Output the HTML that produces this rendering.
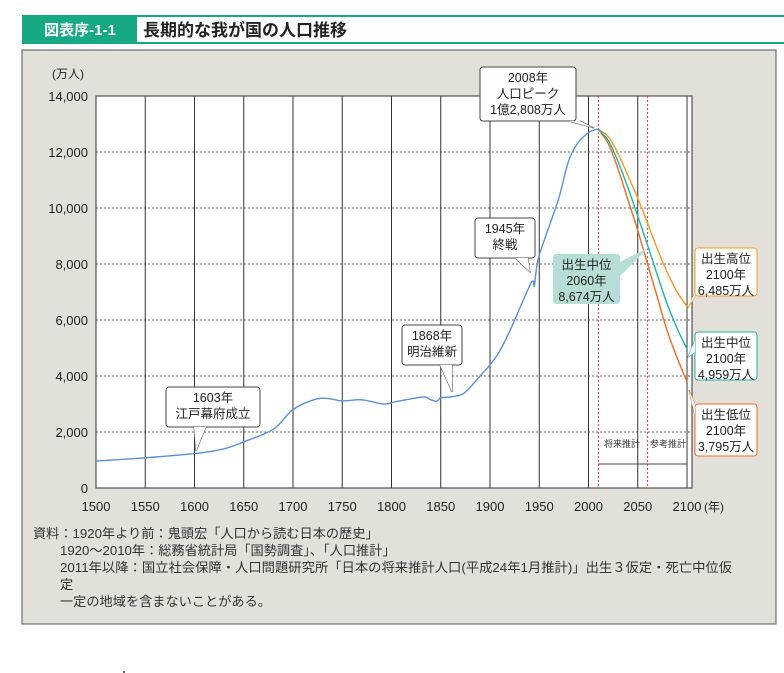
<!DOCTYPE html>
<html><head><meta charset="utf-8"><style>
body{margin:0;width:784px;height:673px;background:#fff;position:relative;font-family:"Liberation Sans","Noto Sans CJK JP",sans-serif;overflow:hidden}
</style></head><body>
<svg width="784" height="673" viewBox="0 0 784 673" xmlns="http://www.w3.org/2000/svg" style="position:absolute;left:0;top:0;font-family:'Liberation Sans','Noto Sans CJK JP',sans-serif">
<g>
<rect x="22" y="15" width="762" height="29" fill="#17a884"/>
<rect x="137" y="17" width="647" height="25" fill="#fff"/>
<text x="80" y="35" font-size="15" font-weight="bold" fill="#fff" text-anchor="middle">図表序-1-1</text>
<text x="143" y="36" font-size="17" font-weight="bold" fill="#222">長期的な我が国の人口推移</text>
</g>
<rect x="22" y="50" width="754" height="574" fill="#e3e0da" stroke="#555" stroke-width="1"/>
<g id="plot"></g>
<g font-size="13.2" fill="#333">
<text x="33" y="538">資料：1920年より前：鬼頭宏「人口から読む日本の歴史」</text>
<text x="60" y="555">1920～2010年：総務省統計局「国勢調査」、「人口推計」</text>
<text x="60" y="572" textLength="672" lengthAdjust="spacingAndGlyphs">2011年以降：国立社会保障・人口問題研究所「日本の将来推計人口(平成24年1月推計)」出生３仮定・死亡中位仮</text>
<text x="60" y="589">定</text>
<text x="60" y="606">一定の地域を含まないことがある。</text>
</g>
<circle cx="124" cy="672" r="1" fill="#333"/>
</svg>
<script>
const yTicks=[0,2000,4000,6000,8000,10000,12000,14000];
const xTicks=[1500,1550,1600,1650,1700,1750,1800,1850,1900,1950,2000,2050,2100];
const histYears=[1500,1550,1600,1630,1650,1680,1700,1721,1735,1750,1770,1792,1804,1822,1834,1840,1846,1850,1860,1872,1880,1890,1900,1910,1920,1930,1940,1944,1945,1947,1950,1960,1970,1980,1990,2000,2005,2008,2010];
const histPop=[960,1080,1227,1400,1650,2100,2800,3150,3200,3110,3150,3000,3080,3200,3250,3150,3100,3220,3250,3350,3600,4000,4400,4900,5600,6400,7200,7400,7200,7800,8320,9340,10370,11700,12360,12690,12780,12808,12806];
const projYears=[2010,2020,2030,2040,2050,2060,2070,2080,2090,2100];
const projMid=[12806,12410,11662,10728,9708,8674,7590,6560,5700,4959];
const projHigh=[12806,12550,11950,11160,10350,9460,8520,7700,7000,6485];
const projLow=[12806,12300,11400,10300,9200,7997,6800,5600,4650,3795];
const X0=96,X1=687,Y0=488,Y1=96;
const sx=v=>X0+(v-1500)*(X1-X0)/600;
const sy=v=>Y0-v*(Y0-Y1)/14000;
const NS="http://www.w3.org/2000/svg";
const g=document.getElementById('plot');
function el(t,a,p){const e=document.createElementNS(NS,t);for(const k in a)e.setAttribute(k,a[k]);(p||g).appendChild(e);return e;}
el('rect',{x:X0,y:Y1,width:692-X0,height:Y0-Y1,fill:'#fff',stroke:'#333','stroke-width':1});
yTicks.forEach(v=>{
 if(v>0&&v<14000){const l=el('line',{x1:X0,x2:692,y1:sy(v),y2:sy(v),stroke:'#333','stroke-dasharray':'2,2','stroke-width':0.8});
 }
 const t=el('text',{x:X0-8,y:sy(v)+5,'font-size':13,'text-anchor':'end',fill:'#222'});t.textContent=v.toLocaleString('en-US');
 
});
xTicks.forEach(v=>{
 if(v>1500){const l=el('line',{x1:sx(v),x2:sx(v),y1:Y1,y2:Y0,stroke:'#333','stroke-width':1});
 }
 const t=el('text',{x:sx(v),y:511,'font-size':13,'text-anchor':'middle',fill:'#222'});t.textContent=v;
 
});
let t=el('text',{x:714,y:511,'font-size':12,'text-anchor':'middle',fill:'#222'});t.textContent='(年)';

t=el('text',{x:84,y:78,'font-size':12,'text-anchor':'end',fill:'#222'});t.textContent='(万人)';

[2010,2060].forEach(v=>{const l=el('line',{x1:sx(v),x2:sx(v),y1:Y1,y2:Y0,stroke:'#e8343c','stroke-dasharray':'2,2','stroke-width':1});
});
function path(xs,ys,c,name){
 const P=xs.map((x,i)=>[sx(x),sy(ys[i])]);
 let d='M'+P[0][0].toFixed(1)+','+P[0][1].toFixed(1);
 for(let i=0;i<P.length-1;i++){const p0=P[i-1]||P[i],p1=P[i],p2=P[i+1],p3=P[i+2]||p2;
  const c1=[p1[0]+(p2[0]-p0[0])/6,p1[1]+(p2[1]-p0[1])/6],c2=[p2[0]-(p3[0]-p1[0])/6,p2[1]-(p3[1]-p1[1])/6];
  d+=`C${c1[0].toFixed(1)},${c1[1].toFixed(1)} ${c2[0].toFixed(1)},${c2[1].toFixed(1)} ${p2[0].toFixed(1)},${p2[1].toFixed(1)}`;}
 const p=el('path',{d:d,fill:'none',stroke:c,'stroke-width':1.4,'stroke-linejoin':'round'});
 }
path(histYears,histPop,'#5b8fd6','historical-line');
path(projYears,projHigh,'#f39a2c','high-variant-line');
path(projYears,projLow,'#ec6a2a','low-variant-line');
path(projYears,projMid,'#22b3a3','medium-variant-line');
el('line',{x1:sx(2010),x2:sx(2100),y1:464,y2:464,stroke:'#444','stroke-width':1});
t=el('text',{x:622,y:447,'font-size':9,'text-anchor':'middle',fill:'#333'});t.textContent='将来推計';

t=el('text',{x:668,y:447,'font-size':9,'text-anchor':'middle',fill:'#333'});t.textContent='参考推計';

function callout(x,y,w,h,lines,px,py,bx,by,stroke,fill,name){
 const gg=el('g',{});
 el('path',{d:`M${bx[0]},${by[0]}L${px},${py}L${bx[1]},${by[1]}`,fill:fill,stroke:stroke,'stroke-width':1},gg);
 el('rect',{x:x,y:y,width:w,height:h,rx:3,fill:fill,stroke:stroke,'stroke-width':1},gg);
 el('path',{d:`M${bx[0]},${by[0]}L${px},${py}L${bx[1]},${by[1]}`,fill:fill,stroke:'none'},gg);
 lines.forEach((s,i)=>{const tt=el('text',{x:x+w/2,y:y+15+i*16,'font-size':12.5,'text-anchor':'middle',fill:'#222'},gg);tt.textContent=s;});
}
callout(480,67,96,54,['2008年','人口ピーク','1億2,808万人'],594,128,[568,580],[121,121],'#444','#fff','peak-callout');
callout(475,218,60,40,['1945年','終戦'],530,272,[515,528],[258,258],'#444','#fff','war-callout');
callout(402,325,60,40,['1868年','明治維新'],452,392,[440,452],[365,365],'#444','#fff','meiji-callout');
callout(166,387,94,40,['1603年','江戸幕府成立'],196,451,[194,206],[427,427],'#444','#fff','edo-callout');
callout(553,254,67,50,['出生中位','2060年','8,674万人'],648,248,[620,620],[262,276],'none','#b6ddd6','mid-2060-callout');
callout(695,248,62,48,['出生高位','2100年','6,485万人'],688,308,[695,695],[296,292],'#f39a2c','#fff','high-2100-callout');
callout(695,332,62,48,['出生中位','2100年','4,959万人'],688,357,[695,695],[340,352],'#22b3a3','#fff','mid-2100-callout');
callout(695,404,62,52,['出生低位','2100年','3,795万人'],689,390,[695,695],[404,416],'#ec6a2a','#fff','low-2100-callout');
</script>
</body></html>
